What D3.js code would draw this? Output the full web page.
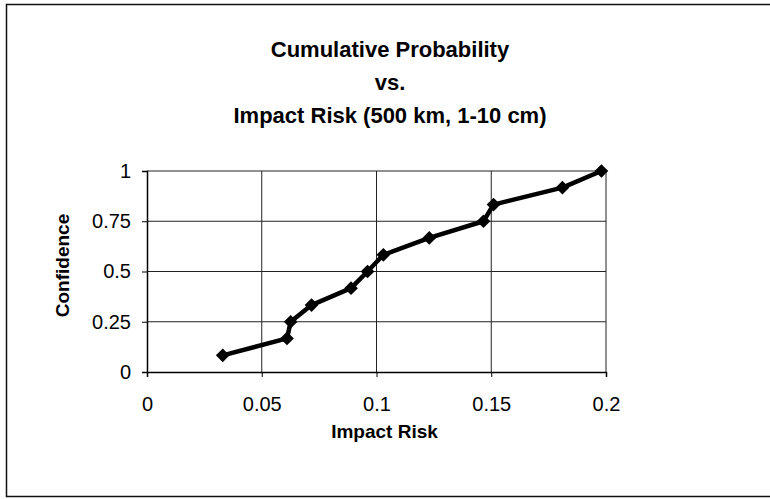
<!DOCTYPE html>
<html>
<head>
<meta charset="utf-8">
<script src="https://cdn.jsdelivr.net/npm/d3@7"></script>
<style>
  body { margin: 0; background: #fff; }
  svg { display: block; font-family: Arial, "Liberation Sans", sans-serif; }
</style>
</head>
<body>
<script>
const impactRisk = [0.033, 0.061, 0.0626, 0.0717, 0.0889, 0.0961, 0.103, 0.123, 0.1466, 0.151, 0.181, 0.198];
const confidence = [0.083, 0.167, 0.25, 0.333, 0.417, 0.5, 0.583, 0.667, 0.75, 0.833, 0.917, 1];
const xTicks = [0, 0.05, 0.1, 0.15, 0.2];
const yTicks = [0, 0.25, 0.5, 0.75, 1];
const titleLines = ["Cumulative Probability", "vs.", "Impact Risk (500 km, 1-10 cm)"];

const width = 770, height = 499;
const margin = { top: 171, right: 164, bottom: 127, left: 147 };
const w = width - margin.left - margin.right;
const h = height - margin.top - margin.bottom;

const svg = d3.select("body").append("svg")
    .attr("width", width)
    .attr("height", height);

// outer chart frame
svg.append("rect")
    .attr("x", 6.5).attr("y", 4.5)
    .attr("width", 775).attr("height", 492)
    .attr("fill", "none")
    .attr("stroke", "#111")
    .attr("stroke-width", 1.5);

const g = svg.append("g")
    .attr("transform", `translate(${margin.left},${margin.top})`);

const x = d3.scaleLinear().domain([0, 0.2]).range([0, w]);
const y = d3.scaleLinear().domain([0, 1]).range([h, 0]);

// grid
g.append("g").selectAll("line")
    .data(xTicks.slice(1))
    .enter().append("line")
    .attr("x1", d => x(d)).attr("x2", d => x(d))
    .attr("y1", 0).attr("y2", h)
    .attr("stroke", "#222").attr("stroke-width", 1);

g.append("g").selectAll("line")
    .data(yTicks.slice(1))
    .enter().append("line")
    .attr("x1", 0).attr("x2", w)
    .attr("y1", d => y(d)).attr("y2", d => y(d))
    .attr("stroke", "#222").attr("stroke-width", 1);

const xAxis = d3.axisBottom(x).tickValues(xTicks).tickSize(5).tickFormat(d3.format("~g"));
const yAxis = d3.axisLeft(y).tickValues(yTicks).tickSize(5).tickFormat(d3.format("~g"));

const gx = g.append("g")
    .attr("transform", `translate(0,${h})`)
    .call(xAxis);
gx.select(".domain").attr("stroke", "#000").attr("stroke-width", 1.5);
gx.selectAll(".tick text")
    .attr("y", 25)
    .style("font-size", "20px")
    .attr("fill", "#000");

const gy = g.append("g").call(yAxis);
gy.select(".domain").attr("stroke", "#000").attr("stroke-width", 1.5);
gy.selectAll(".tick text")
    .attr("x", -16)
    .style("font-size", "20px")
    .attr("fill", "#000");

// line
g.append("path")
    .datum(d3.zip(impactRisk, confidence))
    .attr("fill", "none")
    .attr("stroke", "#000")
    .attr("stroke-width", 4.5)
    .attr("stroke-linejoin", "round")
    .attr("d", d3.line().x(d => x(d[0])).y(d => y(d[1])));

// markers
g.selectAll(".pt")
    .data(d3.zip(impactRisk, confidence))
    .enter().append("path")
    .attr("class", "pt")
    .attr("transform", d => `translate(${x(d[0])},${y(d[1])})`)
    .attr("d", d3.symbol(d3.symbolDiamond2, 120))
    .attr("fill", "#000");

// titles
svg.append("g").selectAll("text")
    .data(titleLines)
    .enter().append("text")
    .attr("x", 390)
    .attr("y", (d, i) => 57 + i * 33)
    .attr("text-anchor", "middle")
    .style("font-size", "22px")
    .style("font-weight", "bold")
    .text(d => d);

g.append("text")
    .attr("x", w / 2 + 8)
    .attr("y", h + 66)
    .attr("text-anchor", "middle")
    .style("font-size", "19px")
    .style("font-weight", "bold")
    .text("Impact Risk");

g.append("text")
    .attr("transform", "rotate(-90)")
    .attr("x", -h / 2 + 6)
    .attr("y", -78)
    .attr("text-anchor", "middle")
    .style("font-size", "19px")
    .style("font-weight", "bold")
    .text("Confidence");
</script>
</body>
</html>
